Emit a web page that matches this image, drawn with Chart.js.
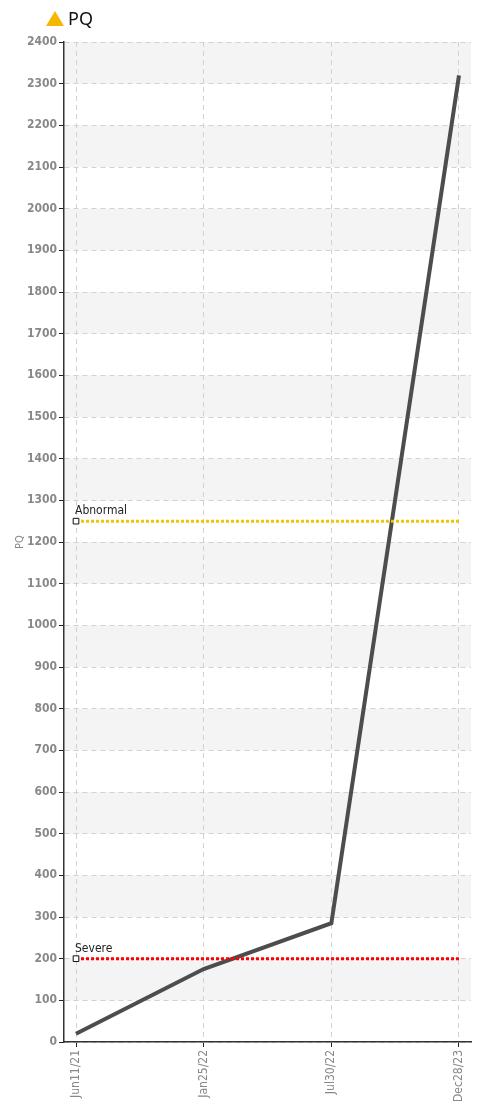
<!DOCTYPE html>
<html>
<head>
<meta charset="utf-8">
<script src="https://cdn.jsdelivr.net/npm/chart.js@4/dist/chart.umd.min.js"></script>
<style>
  html, body { margin: 0; padding: 0; background: #fff; }
  #wrap { position: relative; width: 479px; height: 1107px; }
  #title { position: absolute; left: 46px; top: 6px; font: 18px "Noto Sans", sans-serif; color: #111; }
  #title .tri { display: inline-block; width: 0; height: 0; border-left: 9px solid transparent; border-right: 9px solid transparent; border-bottom: 15px solid #f5b800; margin-right: 4px; vertical-align: -1px; }
  canvas { position: absolute; left: 0; top: 0; }
</style>
</head>
<body>
<div id="wrap">
  <canvas id="chart" width="479" height="1107"></canvas>
  <div id="title"><span class="tri"></span>PQ</div>
</div>
<script>
const dates = ["Jun11/21", "Jan25/22", "Jul30/22", "Dec28/23"];
const pqValues = [20, 175, 285, 2320];
const abnormalLevel = 1250;
const severeLevel = 200;

const font = "'DejaVu Sans Condensed', 'Liberation Sans Narrow', sans-serif";

// bandes grises alternées + libellés des seuils
const bandsPlugin = {
  id: "bands",
  beforeDraw(chart) {
    const { ctx, chartArea, scales } = chart;
    ctx.save();
    ctx.fillStyle = "#f4f4f4";
    for (let v = 100; v < 2400; v += 200) {
      const top = scales.y.getPixelForValue(v + 100);
      const bottom = scales.y.getPixelForValue(v);
      ctx.fillRect(chartArea.left, top, chartArea.right - chartArea.left, bottom - top);
    }
    ctx.restore();
  },
  afterDatasetsDraw(chart) {
    const { ctx, scales } = chart;
    ctx.save();
    ctx.font = "12px " + font;
    ctx.fillStyle = "#222";
    ctx.textBaseline = "bottom";
    [["Abnormal", abnormalLevel], ["Severe", severeLevel]].forEach(([txt, lvl]) => {
      ctx.fillText(txt, scales.x.getPixelForValue(0) - 1, scales.y.getPixelForValue(lvl) - 4);
    });
    ctx.restore();
  }
};

function levelLine(level, color) {
  return {
    data: [{ x: 0, y: level }, { x: dates.length - 1, y: level }],
    borderColor: color,
    borderWidth: 3,
    borderDash: [3, 2],
    pointStyle: "rect",
    pointRadius: [4, 0],
    pointBackgroundColor: "#fff",
    pointBorderColor: "#111",
    pointBorderWidth: 1,
    fill: false
  };
}

new Chart(document.getElementById("chart").getContext("2d"), {
  type: "line",
  data: {
    datasets: [
      levelLine(abnormalLevel, "#f5c400"),
      levelLine(severeLevel, "#ff0000"),
      {
        data: pqValues.map((v, i) => ({ x: i, y: v })),
        borderColor: "#4d4d4d",
        borderWidth: 4,
        pointRadius: 0,
        fill: false
      }
    ]
  },
  plugins: [bandsPlugin],
  options: {
    responsive: false,
    animation: false,
    layout: { padding: { top: 42, right: 8, left: 0, bottom: 0 } },
    plugins: { legend: { display: false }, tooltip: { enabled: false } },
    scales: {
      x: {
        type: "linear",
        min: -0.094,
        max: dates.length - 1 + 0.094,
        afterBuildTicks: (scale) => {
          scale.ticks = dates.map((d, i) => ({ value: i }));
        },
        afterFit: (scale) => { scale.height = 65; },
        ticks: {
          autoSkip: false,
          minRotation: 90,
          maxRotation: 90,
          color: "#888",
          font: { family: font, size: 12 },
          padding: 3,
          callback: (v) => dates[v]
        },
        grid: { color: "#d2d2d2", tickColor: "#222", tickLength: 5, tickBorderDash: [] },
        border: { color: "#333", width: 1.5, dash: [5, 4] }
      },
      y: {
        min: 0,
        max: 2400,
        afterFit: (scale) => { scale.width = 64; },
        ticks: {
          stepSize: 100,
          color: "#888",
          font: { family: font, size: 12, weight: "bold" },
          padding: 2,
          callback: (v) => String(v)
        },
        title: {
          display: true,
          text: "PQ",
          color: "#888",
          font: { family: font, size: 11 },
          padding: { top: 14, bottom: 0 }
        },
        grid: { color: "#d2d2d2", tickColor: "#222", tickLength: 5, tickBorderDash: [] },
        border: { color: "#333", width: 1.5, dash: [5, 4] }
      }
    }
  }
});
</script>
</body>
</html>
